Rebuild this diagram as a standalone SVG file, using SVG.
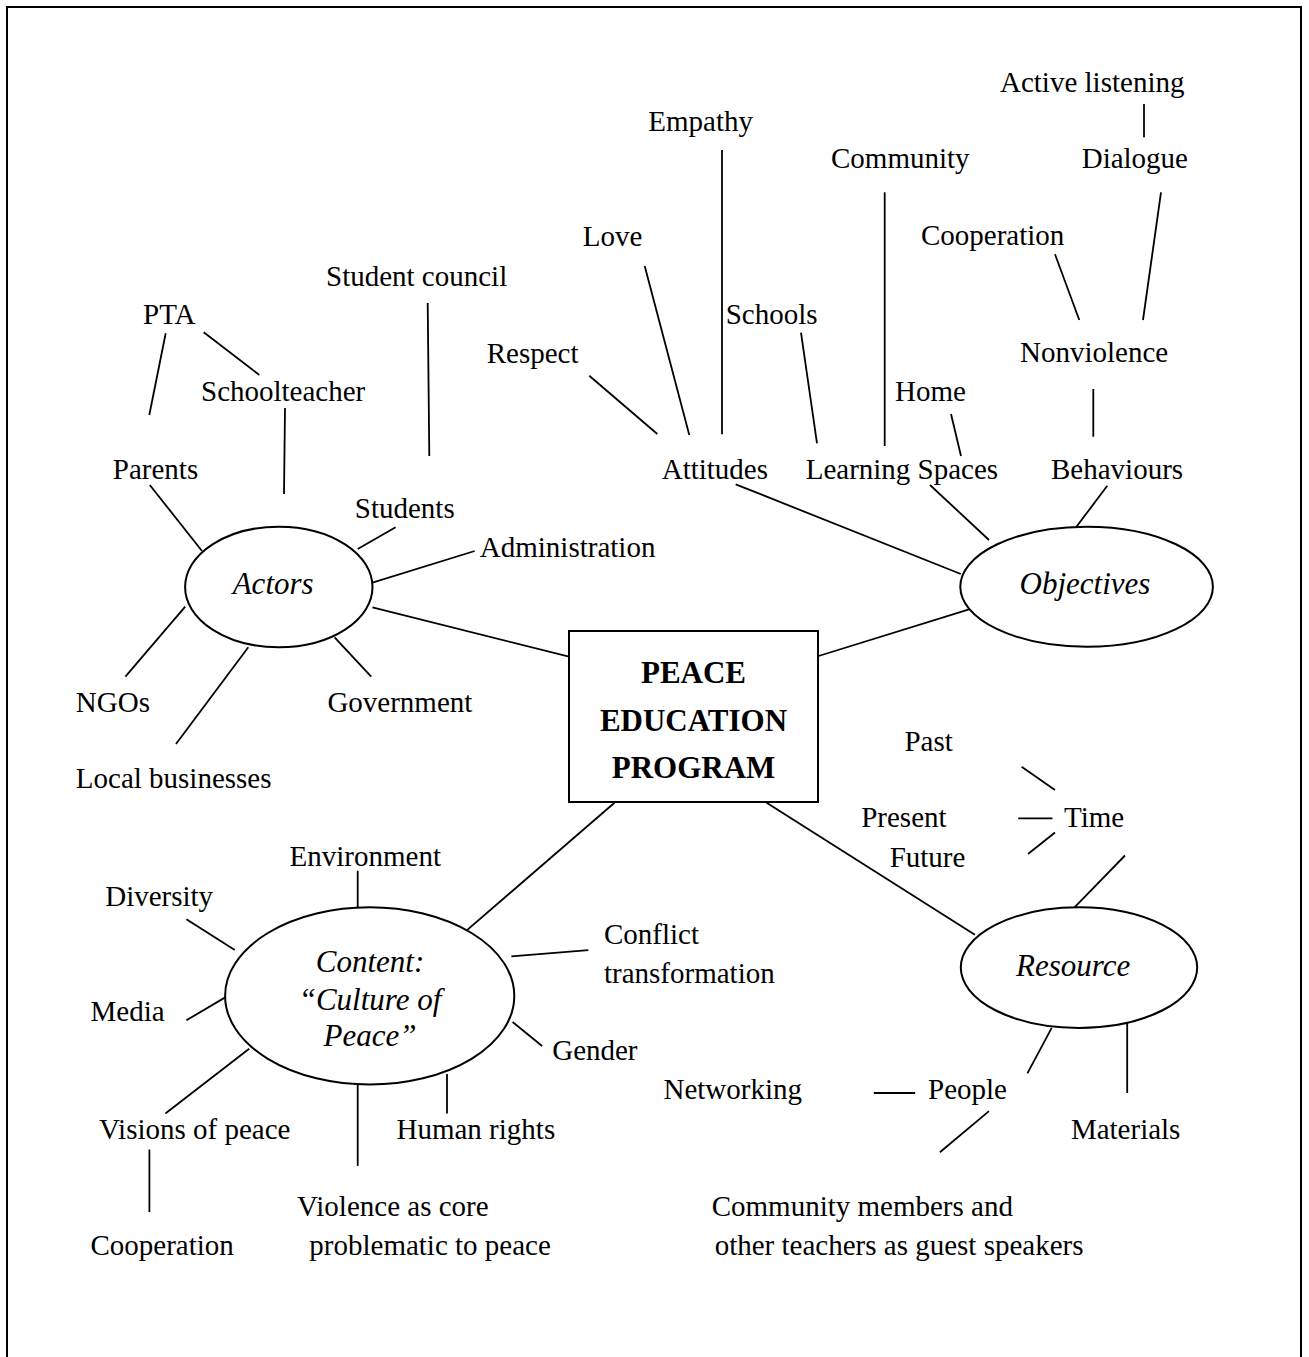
<svg xmlns="http://www.w3.org/2000/svg" width="1309" height="1357" viewBox="0 0 1309 1357">
  <style>
    text { font-family: "Liberation Serif", "Times New Roman", serif; font-size: 29px; fill: #000; }
    .hub { font-size: 31px; font-style: italic; }
    .core { font-size: 31px; font-weight: bold; text-anchor: middle; }
    .mid { text-anchor: middle; }
    .shape { fill: #fff; stroke: #000; stroke-width: 2; }
    #connectors line { stroke: #000; stroke-width: 1.8; }
  </style>

  <rect x="0" y="0" width="1309" height="1357" fill="#fff"/>
  <!-- page frame, open at the bottom -->
  <path d="M7,1360 V7 H1301 V1360" fill="none" stroke="#000" stroke-width="2"/>

  <g id="connectors">
    <!-- centre to hubs -->
    <line x1="372.5" y1="607.3" x2="569" y2="656.7"/>
    <line x1="818.6" y1="656" x2="975.5" y2="607.3"/>
    <line x1="614.5" y1="802.7" x2="460.9" y2="935.4"/>
    <line x1="766.6" y1="802.7" x2="974.9" y2="934.7"/>
    <!-- actors -->
    <line x1="165.7" y1="333.3" x2="149.3" y2="415"/>
    <line x1="203.7" y1="332.3" x2="259.3" y2="375"/>
    <line x1="285" y1="408" x2="284" y2="494"/>
    <line x1="427.7" y1="303" x2="429.3" y2="456"/>
    <line x1="149.8" y1="485" x2="202" y2="551"/>
    <line x1="395.6" y1="527.3" x2="357.7" y2="549"/>
    <line x1="474.7" y1="551" x2="372.5" y2="582.7"/>
    <line x1="185.2" y1="606.7" x2="125.4" y2="676.7"/>
    <line x1="248.3" y1="647.3" x2="176" y2="744"/>
    <line x1="334.6" y1="637.3" x2="371.2" y2="676.7"/>
    <!-- objectives -->
    <line x1="644.7" y1="266" x2="689.3" y2="435"/>
    <line x1="722" y1="150" x2="722" y2="434.3"/>
    <line x1="589.3" y1="375.7" x2="657.3" y2="434"/>
    <line x1="801" y1="332.7" x2="817" y2="443.3"/>
    <line x1="735.7" y1="484.3" x2="960.8" y2="574"/>
    <line x1="1144" y1="104" x2="1144" y2="137.3"/>
    <line x1="884.7" y1="192.3" x2="884.7" y2="446"/>
    <line x1="1055" y1="254.3" x2="1079.3" y2="320"/>
    <line x1="1161" y1="192.3" x2="1143" y2="320"/>
    <line x1="951" y1="414" x2="961" y2="456"/>
    <line x1="1093.3" y1="389" x2="1093.3" y2="436.7"/>
    <line x1="930" y1="485" x2="989" y2="540"/>
    <line x1="1107.3" y1="485.7" x2="1074" y2="530"/>
    <!-- resource -->
    <line x1="1021.6" y1="766.7" x2="1055" y2="790"/>
    <line x1="1018.2" y1="818.3" x2="1052.5" y2="818.3"/>
    <line x1="1028" y1="854" x2="1055" y2="832.5"/>
    <line x1="1125" y1="855.5" x2="1074.5" y2="907.3"/>
    <line x1="1027.4" y1="1073.4" x2="1051.7" y2="1027.9"/>
    <line x1="1127.2" y1="1021.4" x2="1127.2" y2="1093"/>
    <line x1="873.8" y1="1093" x2="915.2" y2="1093"/>
    <line x1="989" y1="1111.1" x2="939.9" y2="1152.2"/>
    <!-- content -->
    <line x1="357.7" y1="870.7" x2="357.7" y2="911.8"/>
    <line x1="186.4" y1="919.3" x2="234.8" y2="950.1"/>
    <line x1="588.4" y1="950.1" x2="511.4" y2="956.3"/>
    <line x1="186.4" y1="1020.3" x2="225.2" y2="997.4"/>
    <line x1="512.6" y1="1022" x2="542.1" y2="1046"/>
    <line x1="249.2" y1="1048.8" x2="165.4" y2="1113.5"/>
    <line x1="357.7" y1="1084.4" x2="357.7" y2="1165.9"/>
    <line x1="447" y1="1074" x2="447" y2="1113.5"/>
    <line x1="149.4" y1="1149.5" x2="149.4" y2="1212.1"/>
  </g>

  <g id="node-program">
    <rect class="shape" x="569" y="631" width="249" height="171"/>
    <text class="core" x="693.5" y="682.7">PEACE</text>
    <text class="core" x="693.5" y="730.7">EDUCATION</text>
    <text class="core" x="693.5" y="778.3">PROGRAM</text>
  </g>

  <g id="node-actors">
    <ellipse class="shape" cx="278.8" cy="587" rx="93.7" ry="60.3"/>
    <text class="hub" x="232.7" y="594">Actors</text>
  </g>
  <g id="node-objectives">
    <ellipse class="shape" cx="1086.6" cy="586.7" rx="126.3" ry="60"/>
    <text class="hub" x="1019.6" y="594">Objectives</text>
  </g>
  <g id="node-content">
    <ellipse class="shape" cx="369.7" cy="995.9" rx="144.6" ry="88.6"/>
    <text class="hub mid" x="370" y="972.4">Content:</text>
    <text class="hub mid" x="370" y="1010">“Culture of</text>
    <text class="hub mid" x="370" y="1046">Peace”</text>
  </g>
  <g id="node-resource">
    <ellipse class="shape" cx="1079" cy="967.6" rx="118.2" ry="60.3"/>
    <text class="hub" x="1016" y="975.8">Resource</text>
  </g>

  <!-- actors branch -->
  <g id="node-student-council"><text x="326" y="286">Student council</text></g>
  <g id="node-pta"><text x="143" y="324">PTA</text></g>
  <g id="node-schoolteacher"><text x="201" y="400.7">Schoolteacher</text></g>
  <g id="node-parents"><text x="112.8" y="479.3">Parents</text></g>
  <g id="node-students"><text x="354.8" y="518.3">Students</text></g>
  <g id="node-administration"><text x="479.8" y="556.7">Administration</text></g>
  <g id="node-ngos"><text x="75.8" y="711.7">NGOs</text></g>
  <g id="node-government"><text x="327.4" y="711.7">Government</text></g>
  <g id="node-local-businesses"><text x="75.8" y="788.3">Local businesses</text></g>

  <!-- objectives branch -->
  <g id="node-active-listening"><text x="1000" y="91.7">Active listening</text></g>
  <g id="node-empathy"><text x="648.3" y="130.7">Empathy</text></g>
  <g id="node-community"><text x="831" y="168.3">Community</text></g>
  <g id="node-dialogue"><text x="1081.7" y="168.3">Dialogue</text></g>
  <g id="node-love"><text x="582.7" y="246">Love</text></g>
  <g id="node-cooperation-obj"><text x="921" y="245">Cooperation</text></g>
  <g id="node-schools"><text x="725.7" y="324.3">Schools</text></g>
  <g id="node-respect"><text x="486.7" y="362.7">Respect</text></g>
  <g id="node-nonviolence"><text x="1020" y="362.3">Nonviolence</text></g>
  <g id="node-home"><text x="895" y="400.7">Home</text></g>
  <g id="node-attitudes"><text x="661.7" y="478.8">Attitudes</text></g>
  <g id="node-learning-spaces"><text x="805.7" y="478.8">Learning Spaces</text></g>
  <g id="node-behaviours"><text x="1051" y="478.8">Behaviours</text></g>

  <!-- resource branch -->
  <g id="node-past"><text x="904.4" y="750.7">Past</text></g>
  <g id="node-present"><text x="861.2" y="827.3">Present</text></g>
  <g id="node-time"><text x="1064" y="827.3">Time</text></g>
  <g id="node-future"><text x="889.7" y="866.7">Future</text></g>
  <g id="node-networking"><text x="663.5" y="1099.1">Networking</text></g>
  <g id="node-people"><text x="928" y="1099.1">People</text></g>
  <g id="node-materials"><text x="1070.9" y="1138.5">Materials</text></g>
  <g id="node-guest-speakers">
    <text x="711.7" y="1215.5">Community members and</text>
    <text x="714.7" y="1254.9">other teachers as guest speakers</text>
  </g>

  <!-- content branch -->
  <g id="node-environment"><text x="289.6" y="866.2">Environment</text></g>
  <g id="node-diversity"><text x="105.2" y="905.6">Diversity</text></g>
  <g id="node-conflict">
    <text x="604" y="944">Conflict</text>
    <text x="604" y="982.7">transformation</text>
  </g>
  <g id="node-media"><text x="90.5" y="1021.4">Media</text></g>
  <g id="node-gender"><text x="552.2" y="1060.4">Gender</text></g>
  <g id="node-visions"><text x="98.9" y="1138.5">Visions of peace</text></g>
  <g id="node-human-rights"><text x="396.5" y="1138.5">Human rights</text></g>
  <g id="node-violence">
    <text x="297.1" y="1215.5">Violence as core</text>
    <text x="309.3" y="1254.9">problematic to peace</text>
  </g>
  <g id="node-cooperation-content"><text x="90.5" y="1254.9">Cooperation</text></g>
</svg>
